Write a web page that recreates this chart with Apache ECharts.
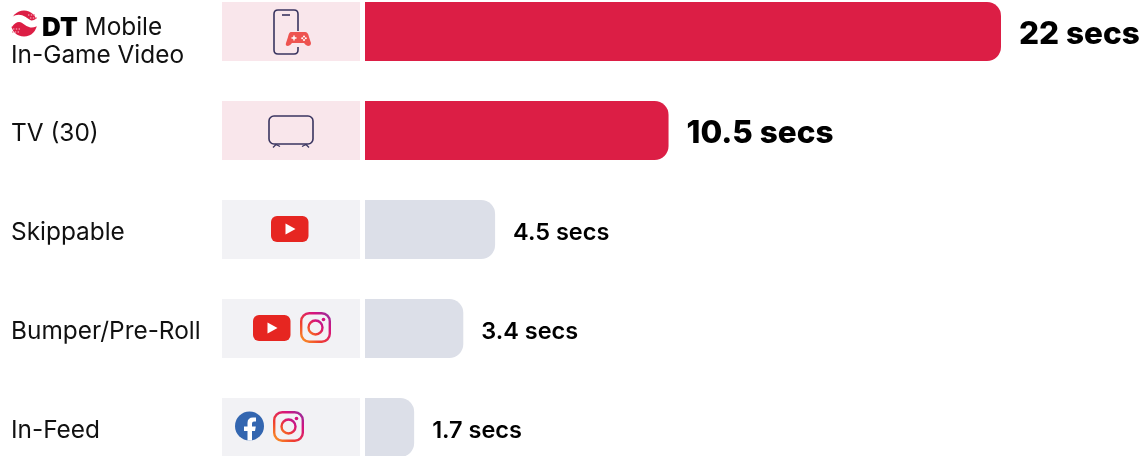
<!DOCTYPE html>
<html><head><meta charset="utf-8">
<style>html,body{margin:0;padding:0;background:#fff}#c{width:1148px;height:456px}</style>
<script src="https://cdn.jsdelivr.net/npm/echarts@6/dist/echarts.min.js"></script>
</head><body><div id="c"></div>
<script>
const categories = ['DT Mobile In-Game Video','TV (30)','Skippable','Bumper/Pre-Roll','In-Feed'];
const seconds = [22,10.5,4.5,3.4,1.7];
const valueLabels = ['22 secs','10.5 secs','4.5 secs','3.4 secs','1.7 secs'];
const highlighted = [true,true,false,false,false];
const panelFull = [1,1,1,1,1];

const FONT='Inter';
const RED='#DC1E45', GREY='#DCDFE8', PINK='#F9E6EB', PANEL='#F2F2F5', INK='#3A3560', YT='#E62621', FB='#3366B0';
const igGrad={type:'linear',x:0,y:1,x2:1,y2:0,global:false,colorStops:[{offset:0,color:'#FDB022'},{offset:.35,color:'#F0402F'},{offset:.7,color:'#D4127F'},{offset:1,color:'#7A3BA8'}]};
function p(d,style){return {type:'path',shape:{pathData:d},style};}
function youtube(x,y){return [
 {type:'rect',shape:{x:x,y:y,width:37.5,height:26,r:6},style:{fill:YT}},
 {type:'polygon',shape:{points:[[x+14.5,y+7.5],[x+14.5,y+18.5],[x+24.5,y+13]]},style:{fill:'#fff'}}];}
function instagram(x,y){return [
 {type:'rect',shape:{x:x+1.2,y:y+1.2,width:28.6,height:28.6,r:8},style:{fill:'none',stroke:igGrad,lineWidth:2.4}},
 {type:'circle',shape:{cx:x+15.5,cy:y+15.5,r:7},style:{fill:'none',stroke:igGrad,lineWidth:2.4}},
 {type:'circle',shape:{cx:x+23.5,cy:y+7.5,r:1.8},style:{fill:'#D4127F'}}];}
const icons=[
 {type:'circle',shape:{cx:24,cy:23.5,r:13},style:{fill:RED}},
 p('M9 25 C14 18 19 17 24 20 C28 23 31 27 39 21',{fill:'none',stroke:'#fff',lineWidth:7}),
 p('M28 15 h8 M30 18 h7 M13 29 h7 M12 32 h8',{fill:'none',stroke:'#F08CA0',lineWidth:1.4,lineDash:[1.4,1.4]}),
 p('M298 31 V14 Q298 10 294 10 H278 Q274 10 274 14 V50 Q274 54 278 54 H294 Q298 54 298 50 V47',{fill:'none',stroke:INK,lineWidth:1.6}),
 {type:'line',shape:{x1:282,y1:15,x2:290,y2:15},style:{stroke:INK,lineWidth:1.6}},
 p('M291 32 H305 Q308 32 309 37 L311 43 Q311 46 308 46 Q306 46 304 43 H292 Q290 46 288 46 Q285 46 286 43 L288 37 Q289 32 291 32 Z',{fill:'#EE5350'}),
 p('M294 35.5 V40.5 M291.5 38 H296.5',{fill:'none',stroke:'#fff',lineWidth:1.4}),
 {type:'circle',shape:{cx:304,cy:36.5,r:1},style:{fill:'#fff'}},
 {type:'circle',shape:{cx:304,cy:40,r:1},style:{fill:'#fff'}},
 {type:'circle',shape:{cx:302.2,cy:38.2,r:1},style:{fill:'#fff'}},
 {type:'circle',shape:{cx:305.8,cy:38.2,r:1},style:{fill:'#fff'}},
 {type:'rect',shape:{x:269,y:116,width:44,height:28,r:5},style:{fill:'none',stroke:INK,lineWidth:1.6}},
 p('M273 147.5 L276 144.5 L280 146.5 M302 146.5 L306 144.5 L309 147.5',{fill:'none',stroke:INK,lineWidth:1.3}),
 ...youtube(271,216),
 ...youtube(253,315),
 ...instagram(300,312),
 {type:'circle',shape:{cx:249.5,cy:426,r:14.5},style:{fill:FB}},
 p('M247.5 440.5 V431 H244 V426.5 H247.5 V423 Q247.5 417.5 253 417.5 H256 V421.5 H254 Q252 421.5 252 423.5 V426.5 H255.8 L255 431 H252 V440.5 Z',{fill:'#fff'}),
 ...instagram(273,411)
];

const labelRich={
 dt:{fontFamily:FONT,fontWeight:900,fontSize:26,color:'#000',padding:[0,0,0,31]},
 t:{fontFamily:FONT,fontSize:24.4,color:'#111',lineHeight:28}
};
const catData=categories.map((c,i)=>i===0?{value:c,textStyle:{align:'left',padding:[21,0,0,0]}}:c);

const chart=echarts.init(document.getElementById('c'),null,{renderer:'canvas'});
chart.setOption({
 animation:false,
 grid:[
  {left:365,width:636,top:-18,height:495,containLabel:false,outerBoundsMode:'none'},
  {left:222,width:138,top:-18,height:495,containLabel:false,outerBoundsMode:'none'}
 ],
 xAxis:[
  {gridIndex:0,type:'value',min:0,max:22,show:false},
  {gridIndex:1,type:'value',min:0,max:1,show:false}
 ],
 yAxis:[
  {gridIndex:0,type:'category',inverse:true,data:catData,
   axisLine:{show:false},axisTick:{show:false},
   axisLabel:{show:false}},
  {gridIndex:1,type:'category',inverse:true,data:catData,
   axisLine:{show:false},axisTick:{show:false},
   axisLabel:{interval:0,align:'left',margin:211,padding:[6,0,0,0],fontFamily:FONT,fontSize:24.4,color:'#111',lineHeight:28,rich:labelRich,
    formatter:v=>v.startsWith('DT ')?'{dt|DT} {t|Mobile}\n{t|In-Game Video}':'{t|'+v+'}'}}
 ],
 series:[
  {type:'bar',xAxisIndex:1,yAxisIndex:1,barWidth:59,silent:true,
   data:panelFull.map((v,i)=>({value:v,itemStyle:{color:highlighted[i]?PINK:PANEL}}))},
  {type:'bar',xAxisIndex:0,yAxisIndex:0,barWidth:59,silent:true,
   data:seconds.map((v,i)=>({value:v,
    itemStyle:{color:highlighted[i]?RED:GREY,borderRadius:[0,14,14,0]},
    label:{show:true,position:'right',distance:18,offset:[0,3],formatter:valueLabels[i],fontFamily:FONT,color:'#000',
     fontWeight:highlighted[i]?800:600,fontSize:highlighted[i]?31.5:23.5}}))},
  {type:'custom',coordinateSystem:'none',silent:true,z:10,data:[[0]],clip:false,
   renderItem:()=>({type:'group',children:icons})}
 ]
});
</script></body></html>
